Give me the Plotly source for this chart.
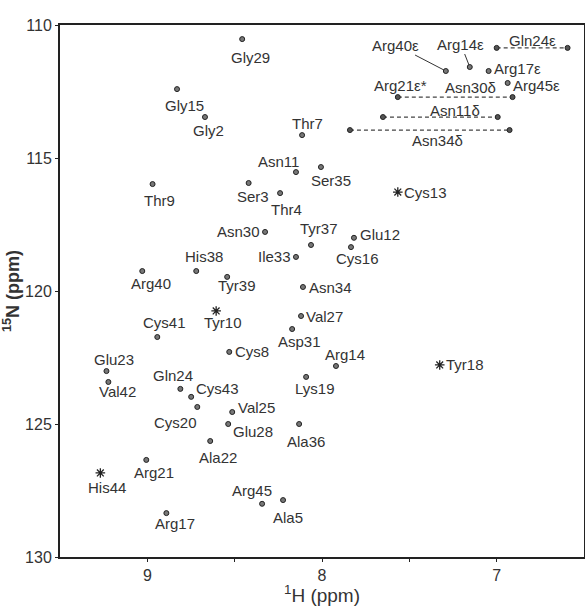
import plotly.graph_objects as go

# ---- backbone amide peaks ----
names = ["Gly29", "Gly15", "Gly2", "Thr7", "Asn11", "Ser35", "Thr9", "Ser3", "Thr4",
         "Asn30", "Tyr37", "Glu12", "Cys16", "Ile33", "His38", "Arg40", "Tyr39", "Asn34",
         "Cys41", "Val27", "Asp31", "Cys8", "Arg14", "Glu23", "Val42", "Gln24", "Cys43",
         "Lys19", "Cys20", "Val25", "Glu28", "Ala36", "Ala22", "Arg21", "Arg45", "Ala5", "Arg17"]
h_ppm = [8.457, 8.83, 8.67, 8.114, 8.149, 8.006, 8.97, 8.42, 8.24,
         8.326, 8.063, 7.817, 7.834, 8.149, 8.72, 9.029, 8.543, 8.109,
         8.943, 8.12, 8.171, 8.531, 7.92, 9.234, 9.223, 8.811, 8.749,
         8.091, 8.714, 8.514, 8.537, 8.131, 8.64, 9.006, 8.343, 8.223, 8.891]
n_ppm = [110.53, 112.41, 113.46, 114.14, 115.53, 115.34, 115.98, 115.94, 116.32,
         117.78, 118.27, 118.0, 118.35, 118.72, 119.25, 119.25, 119.47, 119.85,
         121.73, 120.94, 121.43, 122.29, 122.82, 123.01, 123.42, 123.68, 123.98,
         123.23, 124.36, 124.55, 125.0, 125.0, 125.64, 126.35, 128.0, 127.86, 128.35]

# ---- peaks marked with an asterisk ----
star_names = ["Cys13", "Tyr10", "Tyr18", "His44"]
star_h = [7.566, 8.606, 7.326, 9.269]
star_n = [116.28, 120.75, 122.78, 126.84]

# ---- single side-chain peaks ----
sc_names = ["Arg40ε", "Arg14ε", "Arg17ε", "Arg45ε", "Arg21ε*"]
sc_h = [7.291, 7.154, 7.046, 6.937, 7.566]
sc_n = [111.73, 111.58, 111.73, 112.18, 112.71]

# ---- NH2 side-chain pairs (connected by dashed lines) ----
pair_names = ["Gln24ε", "Asn30δ", "Asn11δ", "Asn34δ"]
pair_h1 = [7.0, 7.566, 7.651, 7.84]
pair_h2 = [6.594, 6.909, 6.994, 6.926]
pair_n = [110.86, 112.71, 113.46, 113.95]

x_major = [9, 8, 7]
x_minor = [8.5, 7.5]
y_ticks = [110, 115, 120, 125, 130]

# ---- label placement (pixel offsets dx, dy (down) and anchor) ----
lab_pos = {
    "Gly29": (8, 18, "center"), "Gly15": (7, 16, "center"), "Gly2": (4, 13, "center"),
    "Thr7": (5, -12, "center"), "Asn11": (-17, -11, "center"), "Ser35": (10, 13, "center"),
    "Thr9": (7, 16, "center"), "Ser3": (4, 13, "center"), "Thr4": (6, 16, "center"),
    "Asn30": (-3, 0, "right"), "Tyr37": (8, -16, "center"), "Glu12": (4, -3, "left"),
    "Cys16": (7, 11, "center"), "Ile33": (-3, 0, "right"), "His38": (8, -15, "center"),
    "Arg40": (9, 12, "center"), "Tyr39": (10, 9, "center"), "Asn34": (4, 0, "left"),
    "Cys41": (7, -15, "center"), "Val27": (3, 0, "left"), "Asp31": (7, 12, "center"),
    "Cys8": (4, 0, "left"), "Arg14": (9, -12, "center"), "Glu23": (8, -12, "center"),
    "Val42": (9, 10, "center"), "Gln24": (-7, -13, "center"), "Cys43": (3, -8, "left"),
    "Lys19": (8, 12, "center"), "Cys20": (-22, 16, "center"), "Val25": (4, -5, "left"),
    "Glu28": (3, 7, "left"), "Ala36": (7, 17, "center"), "Ala22": (8, 16, "center"),
    "Arg21": (8, 13, "center"), "Arg45": (-10, -13, "center"), "Ala5": (5, 17, "center"),
    "Arg17": (9, 10, "center"),
}
star_pos = {"Cys13": (4, 0, "left"), "Tyr10": (7, 12, "center"),
            "Tyr18": (4, 0, "left"), "His44": (7, 15, "center")}
sc_pos = {"Arg17ε": (3, -3, "left"), "Arg45ε": (3, 3, "left"), "Arg21ε*": (3, -12, "center")}
sc_leader = {"Arg40ε": (-50, -26), "Arg14ε": (-9, -23)}
pair_pos = {"Gln24ε": (0, -7), "Asn30δ": (15, -10), "Asn11δ": (15, -7), "Asn34δ": (8, 10)}

FONT = "Liberation Sans, Arial, sans-serif"
TXT = "#333333"
LAB_SIZE = 15

fig = go.Figure()

# dashed connectors for NH2 pairs
for nm, a, b, n in zip(pair_names, pair_h1, pair_h2, pair_n):
    fig.add_trace(go.Scatter(x=[a, b], y=[n, n], mode="lines+markers",
                             line=dict(color="#444", width=1.2, dash="4px,3px"),
                             marker=dict(size=5, color="#555", line=dict(color="#222", width=1)),
                             hoverinfo="skip", showlegend=False))

fig.add_trace(go.Scatter(x=h_ppm, y=n_ppm, mode="markers",
                         marker=dict(size=5, color="#777", line=dict(color="#222", width=1)),
                         hoverinfo="skip", showlegend=False))
fig.add_trace(go.Scatter(x=sc_h[:4], y=sc_n[:4], mode="markers",
                         marker=dict(size=5, color="#777", line=dict(color="#222", width=1)),
                         hoverinfo="skip", showlegend=False))
fig.add_trace(go.Scatter(x=star_h, y=star_n, mode="markers",
                         marker=dict(symbol="asterisk-open", size=8, color="#222",
                                     line=dict(color="#222", width=1.3)),
                         hoverinfo="skip", showlegend=False))

annos = []


def add_label(text, x, y, dx, dy, anchor):
    annos.append(dict(x=x, y=y, xref="x", yref="y", text=text, showarrow=False,
                      xanchor=anchor, yanchor="middle", xshift=dx, yshift=-dy,
                      font=dict(family=FONT, size=LAB_SIZE, color=TXT)))


for nm, x, y in zip(names, h_ppm, n_ppm):
    dx, dy, anc = lab_pos[nm]
    add_label(nm, x, y, dx, dy, anc)
for nm, x, y in zip(star_names, star_h, star_n):
    dx, dy, anc = star_pos[nm]
    add_label(nm, x, y, dx, dy, anc)
for nm, x, y in zip(sc_names, sc_h, sc_n):
    if nm in sc_leader:
        ax, ay = sc_leader[nm]
        annos.append(dict(x=x, y=y, xref="x", yref="y", text=nm, showarrow=True,
                          arrowhead=0, arrowwidth=1, arrowcolor="#333", ax=ax, ay=ay,
                          standoff=2,
                          font=dict(family=FONT, size=LAB_SIZE, color=TXT)))
    else:
        dx, dy, anc = sc_pos[nm]
        add_label(nm, x, y, dx, dy, anc)
for nm, a, b, n in zip(pair_names, pair_h1, pair_h2, pair_n):
    dx, dy = pair_pos[nm]
    add_label(nm, (a + b) / 2, n, dx, dy, "center")

axis_common = dict(showline=True, mirror=True, linecolor="#222", linewidth=2,
                   ticks="outside", ticklen=3, tickcolor="#222", showgrid=False,
                   zeroline=False, automargin=False,
                   tickfont=dict(family=FONT, size=16, color=TXT))

fig.update_layout(
    width=585, height=606,
    margin=dict(l=60, r=1, t=25, b=49),
    plot_bgcolor="white", paper_bgcolor="white",
    annotations=annos,
    xaxis=dict(range=[9.5, 6.5], tickmode="array", tickvals=x_major,
               minor=dict(tickmode="array", tickvals=x_minor, ticks="outside",
                          ticklen=3, tickcolor="#222"),
               title=dict(text="<sup>1</sup>H (ppm)", standoff=2,
                          font=dict(family=FONT, size=19, color=TXT)),
               **axis_common),
    yaxis=dict(range=[130, 110], tickmode="array", tickvals=y_ticks,
               title=dict(text="<b><sup>15</sup>N (ppm)</b>", standoff=1,
                          font=dict(family=FONT, size=18, color=TXT)),
               **axis_common),
)

fig.write_html("out.html", config={"displayModeBar": False},
               post_script="document.body.style.margin='0px';document.body.style.overflow='hidden';")
